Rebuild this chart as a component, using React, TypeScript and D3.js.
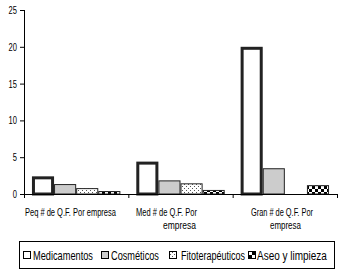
import React from "react";
import * as d3 from "d3";

const categories = ["Peq # de Q.F. Por empresa", "Med # de Q.F. Por empresa", "Gran # de Q.F. Por empresa"];
const categoryLines = [["Peq # de Q.F. Por empresa"], ["Med # de Q.F. Por", "empresa"], ["Gran # de Q.F. Por", "empresa"]];
const seriesNames = ["Medicamentos", "Cosméticos", "Fitoterapéuticos", "Aseo y limpieza"];
const medicamentos = [2.4, 4.4, 20];
const cosmeticos = [1.35, 1.85, 3.5];
const fitoterapeuticos = [0.8, 1.45, 0];
const aseo = [0.4, 0.55, 1.2];
const yTicks = [0, 5, 10, 15, 20, 25];

const seriesValues = [medicamentos, cosmeticos, fitoterapeuticos, aseo];
const FONT = "'Liberation Sans', Arial, sans-serif";

const catLabelGeom = [
  [{ cx: 70.5, w: 91 }],
  [{ cx: 166.5, w: 61 }, { cx: 179.5, w: 33 }],
  [{ cx: 282, w: 62 }, { cx: 285.5, w: 31 }],
];
const legendSwatchX = [23, 101, 169, 248];
const legendTextX = [33, 111, 181, 257];
const legendTextW = [60, 48, 64, 70];

let ctx: CanvasRenderingContext2D | null = null;
function measure(text: string, size: number): number {
  if (!ctx) ctx = document.createElement("canvas").getContext("2d");
  if (!ctx) return text.length * size * 0.5;
  ctx.font = `${size}px 'Liberation Sans', Arial, sans-serif`;
  return ctx.measureText(text).width;
}

function NarrowText(props: { x: number; y: number; w: number; size: number; text: string; anchor?: "start" | "end" }) {
  const { x, y, w, size, text, anchor = "start" } = props;
  const nat = measure(text, size);
  const sx = w / nat;
  const tx = anchor === "end" ? x - w : x;
  return (
    <text
      transform={`translate(${tx},${y}) scale(${sx},1)`}
      fontFamily={FONT}
      fontSize={size}
      fill="#000"
    >
      {text}
    </text>
  );
}

export default function App() {
  const W = 352, H = 278;
  const left = 24, right = 337, top = 10, bottom = 194;
  const x0 = d3.scaleBand<number>().domain([0, 1, 2]).range([left, right]).paddingInner(0).paddingOuter(0);
  const bw = x0.bandwidth();
  const x1 = d3.scaleBand<number>().domain([0, 1, 2, 3]).range([0, bw]).paddingOuter(0.36).paddingInner(0);
  const y = d3.scaleLinear().domain([0, 25]).range([bottom, top]);
  const fills = ["#ffffff", "#cccccc", "url(#dots)", "url(#checks)"];
  const strokeW = [3, 1, 1, 1];

  const legendY = 255;

  return (
    <svg width={W} height={H} style={{ position: "absolute", left: 0, top: 0 }}>
      <defs>
        <pattern id="dots" width="4" height="4" patternUnits="userSpaceOnUse">
          <rect width="4" height="4" fill="#ffffff" />
          <rect x="0" y="0" width="1" height="1" fill="#555" />
          <rect x="2" y="2" width="1" height="1" fill="#555" />
        </pattern>
        <pattern id="checks" width="6" height="6" patternUnits="userSpaceOnUse">
          <rect width="6" height="6" fill="#ffffff" />
          <rect x="0" y="0" width="3" height="3" fill="#000" />
          <rect x="3" y="3" width="3" height="3" fill="#000" />
        </pattern>
      </defs>
      <rect width={W} height={H} fill="#fff" />
      {categories.map((c, ci) =>
        seriesValues.map((vals, si) => {
          const v = vals[ci];
          if (v <= 0) return null;
          const sw = strokeW[si];
          const bx = (x0(ci) as number) + (x1(si) as number);
          const by = y(v);
          return (
            <rect
              key={ci + "-" + si}
              x={bx + sw / 2}
              y={by + sw / 2}
              width={x1.bandwidth() - sw}
              height={bottom - by - sw / 2}
              fill={fills[si]}
              stroke="#222"
              strokeWidth={sw}
            />
          );
        })
      )}
      <line x1={left + 0.5} x2={left + 0.5} y1={top} y2={bottom} stroke="#000" strokeWidth={1} />
      {yTicks.map((t) => (
        <g key={t}>
          <line x1={left - 4} x2={left} y1={y(t) + 0.5} y2={y(t) + 0.5} stroke="#000" />
          <NarrowText x={17} y={y(t) + 4} w={String(t).length * 4.2} size={11} text={String(t)} anchor="end" />
        </g>
      ))}
      <line x1={left} x2={right} y1={bottom + 0.5} y2={bottom + 0.5} stroke="#000" />
      {[0, 1, 2, 3].map((i) => {
        const xx = i < 3 ? (x0(i) as number) : right;
        return <line key={i} x1={xx + 0.5} x2={xx + 0.5} y1={bottom} y2={bottom + 4} stroke="#000" />;
      })}
      {categoryLines.map((lines, ci) =>
        lines.map((l, li) => {
          const g = catLabelGeom[ci][li];
          return <NarrowText key={ci + "-" + li} x={g.cx - g.w / 2} y={216 + li * 12.5} w={g.w} size={11.5} text={l} />;
        })
      )}
      <rect x={19.5} y={241.5} width={315} height={27} fill="none" stroke="#000" strokeWidth={1} />
      {seriesNames.map((n, i) => (
        <g key={n}>
          <rect x={legendSwatchX[i] + 0.5} y={legendY - 3.5} width={7} height={7} fill={fills[i]} stroke="#000" strokeWidth={1} />
          <NarrowText x={legendTextX[i]} y={legendY + 5} w={legendTextW[i]} size={13.5} text={n} />
        </g>
      ))}
    </svg>
  );
}
